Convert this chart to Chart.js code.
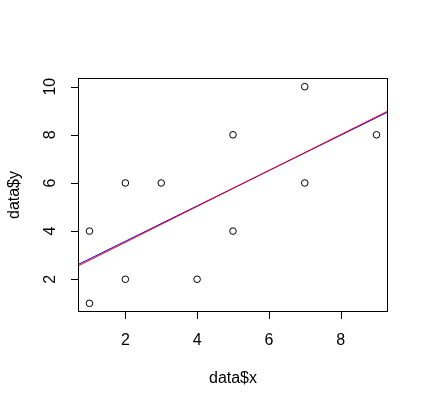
<!DOCTYPE html>
<html>
<head>
<meta charset="utf-8">
<script src="https://cdn.jsdelivr.net/npm/chart.js@4.4.1/dist/chart.umd.min.js"></script>
<style>
  html, body { margin: 0; padding: 0; background: #fff; }
  #wrap { width: 428px; height: 409px; }
</style>
</head>
<body>
<div id="wrap"><canvas id="grafico" width="428" height="409"></canvas></div>
<script>
// dados
const xVals = [1, 1, 2, 2, 3, 4, 5, 5, 7, 7, 9];
const yVals = [1, 4, 2, 6, 6, 2, 4, 8, 6, 10, 8];
const xTicks = [2, 4, 6, 8];
const yTicks = [2, 4, 6, 8, 10];
const xRange = [0.68, 9.32];
const yRange = [0.64, 10.36];
// retas (extremos nos limites do eixo x)
const blueLineY = [2.61, 8.95];
const redLineY = [2.55, 8.99];

const pontos = xVals.map((x, i) => ({ x: x, y: yVals[i] }));
const linhaAzul = xRange.map((x, i) => ({ x: x, y: blueLineY[i] }));
const linhaVermelha = xRange.map((x, i) => ({ x: x, y: redLineY[i] }));

const fonte = "16px 'Liberation Sans', Arial, sans-serif";

// desenha caixa, marcas e textos no estilo do R
const eixosR = {
  id: "eixosR",
  afterDraw(chart) {
    const ctx = chart.ctx;
    const a = chart.chartArea;
    const sx = chart.scales.x;
    const sy = chart.scales.y;
    ctx.save();
    ctx.strokeStyle = "#000";
    ctx.lineWidth = 1;
    ctx.strokeRect(a.left + 0.5, a.top + 0.5, a.right - a.left - 1, a.bottom - a.top - 1);

    ctx.fillStyle = "#000";
    ctx.font = fonte;
    ctx.beginPath();
    xTicks.forEach(v => {
      const px = Math.round(sx.getPixelForValue(v)) + 0.5;
      ctx.moveTo(px, a.bottom);
      ctx.lineTo(px, a.bottom + 7);
    });
    yTicks.forEach(v => {
      const py = Math.round(sy.getPixelForValue(v)) + 0.5;
      ctx.moveTo(a.left, py);
      ctx.lineTo(a.left - 7, py);
    });
    ctx.stroke();

    ctx.textAlign = "center";
    ctx.textBaseline = "middle";
    xTicks.forEach(v => {
      ctx.fillText(String(v), sx.getPixelForValue(v), a.bottom + 29);
    });
    yTicks.forEach(v => {
      ctx.save();
      ctx.translate(a.left - 27, sy.getPixelForValue(v));
      ctx.rotate(-Math.PI / 2);
      ctx.fillText(String(v), 0, 0);
      ctx.restore();
    });

    ctx.fillText("data$x", (a.left + a.right) / 2, 379);
    ctx.save();
    ctx.translate(15, (a.top + a.bottom) / 2);
    ctx.rotate(-Math.PI / 2);
    ctx.fillText("data$y", 0, 0);
    ctx.restore();
    ctx.restore();
  }
};

new Chart(document.getElementById("grafico").getContext("2d"), {
  type: "scatter",
  data: {
    datasets: [
      {
        data: pontos,
        showLine: false,
        pointRadius: 3.3,
        pointBorderWidth: 1,
        pointBorderColor: "#000",
        pointBackgroundColor: "rgba(0,0,0,0)"
      },
      {
        data: linhaVermelha,
        showLine: true,
        borderColor: "#ff0000",
        borderWidth: 1,
        pointRadius: 0
      },
      {
        data: linhaAzul,
        showLine: true,
        borderColor: "#0000ff",
        borderWidth: 1,
        pointRadius: 0
      }
    ]
  },
  options: {
    responsive: false,
    animation: false,
    events: [],
    layout: { padding: { left: 78, right: 40, top: 78, bottom: 97 } },
    plugins: { legend: { display: false }, tooltip: { enabled: false } },
    scales: {
      x: { type: "linear", display: false, min: xRange[0], max: xRange[1] },
      y: { type: "linear", display: false, min: yRange[0], max: yRange[1] }
    }
  },
  plugins: [eixosR]
});
</script>
</body>
</html>
